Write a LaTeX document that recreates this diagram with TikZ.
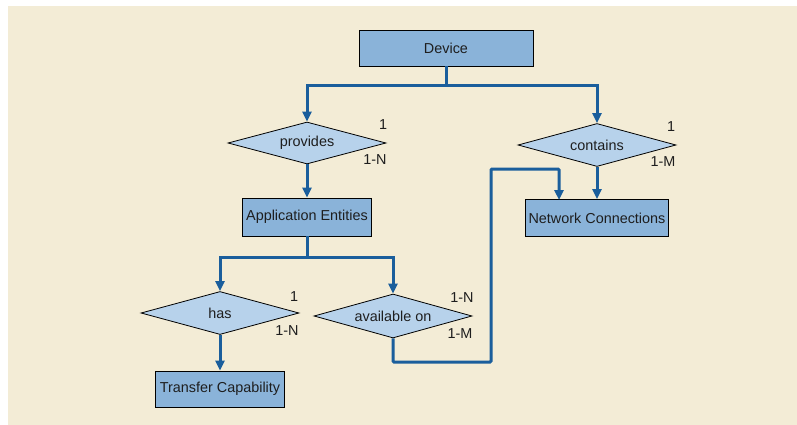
\documentclass[tikz,border=0pt]{standalone}
\usepackage{fontspec}
\setmainfont{Liberation Sans}
\usepackage{tikz}
\usetikzlibrary{arrows.meta,shapes.geometric}

\definecolor{paper}{HTML}{F3ECD6}
\definecolor{boxblue}{HTML}{8AB3D9}
\definecolor{relblue}{HTML}{B7D2EB}
\definecolor{linkblue}{HTML}{1A5E9C}
\definecolor{inktext}{HTML}{1E1E1E}

\tikzset{
  entity/.style={draw=black, thick, fill=boxblue, rectangle, minimum height=36pt,
                 inner sep=1pt, text=inktext, font=\fontsize{14.4}{17}\selectfont},
  relation/.style={draw=black, thick, fill=relblue, diamond, aspect=3.7,
                   minimum width=158pt, minimum height=42pt, inner sep=1pt,
                   text=inktext, font=\fontsize{14.4}{17}\selectfont},
  card/.style={text=inktext, inner sep=0pt, font=\fontsize{14.4}{17}\selectfont},
  link/.style={draw=linkblue, line width=3pt},
  arrow/.style={link, -{Triangle[width=9pt,length=10pt]}}
}

\begin{document}
\begin{tikzpicture}[x=1pt, y=-1pt]

  \useasboundingbox (0,0) rectangle (797,425);
  \fill[paper] (8,6) rectangle (797,425);

  %entities
  \node[entity, minimum width=174pt] (device) at (446,48) {Device};
  \node[entity, minimum width=129pt, minimum height=38pt] (appent) at (307,217) {Application Entities};
  \node[entity, minimum width=143pt, minimum height=37pt] (netconn) at (597,218) {Network Connections};
  \node[entity, minimum width=129pt] (transfer) at (220,389) {Transfer Capability};

  %relations
  \node[relation] (provides) at (307,143) {provides};
  \node[relation, minimum height=43pt] (contains) at (597,145) {contains};
  \node[relation, minimum height=43pt] (has) at (220,313) {has};
  \node[relation, minimum height=44pt] (avail) at (393,316) {available on};

  %cardinalities
  \foreach \x/\y/\num/\name in {383/125/1/cpa, 375/160/1-N/cpb,
                                671/127/1/cca, 663/162/1-M/ccb,
                                294/297/1/cha, 287/331/1-N/chb,
                                462/298/1-N/caa, 460/334/1-M/cab}{
    \node[card] (\name) at (\x,\y) {\num};
  }

  %connectors
  \coordinate (splitA) at (446,86);
  \coordinate (splitB) at (307,257);
  \coordinate (low) at (491,362);
  \coordinate (high) at (491,169);
  \coordinate (ncin) at (559,200);

  \draw[link] (device) -- (splitA);
  \draw[arrow] (splitA) -| (provides.north);
  \draw[arrow] (splitA) -| (contains.north);
  \draw[arrow] (provides.south) -- (appent.north);
  \draw[arrow] (contains.south) -- (netconn.north);

  \draw[link] (appent) -- (splitB);
  \draw[arrow] (splitB) -| (has.north);
  \draw[arrow] (splitB) -| (avail.north);
  \draw[arrow] (has.south) -- (transfer.north);

  \draw[arrow, rounded corners=1pt] (avail.south) |- (low) -- (high) -| (ncin);

\end{tikzpicture}
\end{document}
